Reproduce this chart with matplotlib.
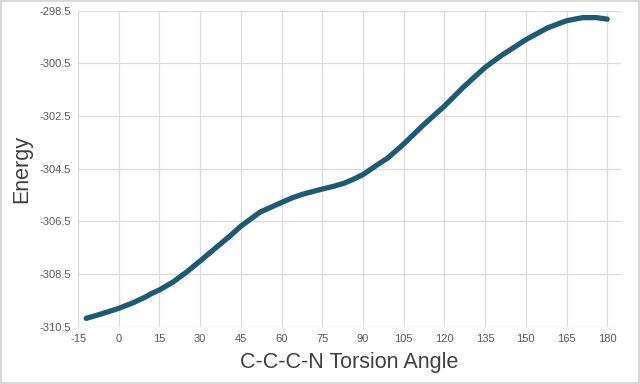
import numpy as np
import matplotlib.pyplot as plt

plt.rcParams['font.family'] = ['Liberation Sans', 'DejaVu Sans']
plt.rcParams['axes.unicode_minus'] = False

# torsion scan
angle = [-12, -7, 0, 5, 10, 12, 15, 20, 25, 30, 36, 41, 45, 52, 60, 64, 68, 75,
         79, 83, 86, 90, 96, 99, 105, 112, 120, 127, 135, 141, 145.5, 150, 158,
         165, 171, 176, 180]
energy = [-310.18, -310.03, -309.80, -309.60, -309.36, -309.24, -309.10, -308.80,
          -308.42, -308.00, -307.48, -307.05, -306.68, -306.15, -305.78, -305.60,
          -305.46, -305.27, -305.17, -305.05, -304.92, -304.72, -304.30, -304.10,
          -303.56, -302.86, -302.12, -301.40, -300.65, -300.20, -299.90, -299.60,
          -299.15, -298.88, -298.76, -298.76, -298.82]

xticks = np.arange(-15, 181, 15)
yticks = np.arange(-310.5, -298.4, 2)

fig = plt.figure(figsize=(6.4, 3.84), dpi=100, edgecolor='#d9d9d9', linewidth=1.5)
ax = fig.add_axes([0.122, 0.149, 0.848, 0.823])

ax.plot(angle, energy, color='#1d5b75', lw=3.8, solid_capstyle='round', solid_joinstyle='round')

ax.set_xlim(-15, 185)
ax.set_ylim(-310.5, -298.5)
ax.set_xticks(xticks)
ax.set_yticks(yticks)
ax.set_yticklabels([f'{v:.1f}' for v in yticks])
ax.grid(True, color='#dcdcdc', lw=0.9)
ax.set_axisbelow(True)
for s in ax.spines.values():
    s.set_visible(False)
ax.tick_params(length=0, labelsize=8, colors='#595959', pad=5)

ax.set_xlabel('C-C-C-N Torsion Angle', fontsize=15.5, color='#404040', labelpad=6)
ax.set_ylabel('Energy', fontsize=15.5, color='#404040', labelpad=5)

fig.savefig('out.png', dpi=100, edgecolor=fig.get_edgecolor())
